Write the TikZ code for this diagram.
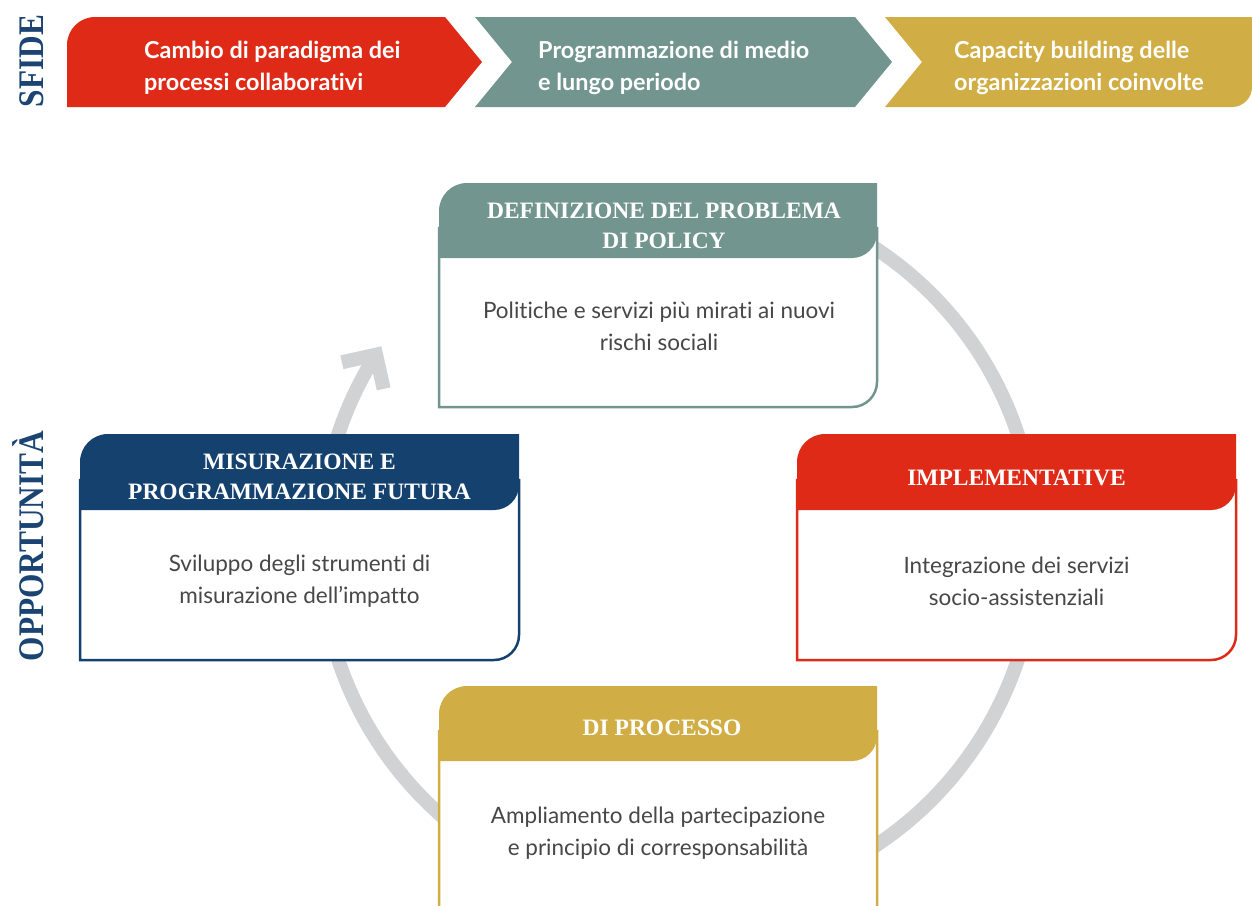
\documentclass[tikz,border=0pt]{standalone}
\usepackage{fontspec}
\usepackage{graphicx}
\setmainfont{Lato}[Ligatures=NoCommon]
\newfontfamily\serifb{Liberation Serif}
\usetikzlibrary{calc}
\definecolor{cred}{HTML}{DE2A17}
\definecolor{cteal}{HTML}{72968F}
\definecolor{cgold}{HTML}{D1AE45}
\definecolor{cblue}{HTML}{15416F}
\definecolor{cgray}{HTML}{D1D2D4}
\definecolor{ctext}{HTML}{474747}
\definecolor{clabel}{HTML}{1B4473}
% #1 colour, #2 left, #3 top, #4 right, #5 bottom, #6 header bottom (y up, negative)
\newcommand\optbox[6]{%
  \filldraw[draw=#1, fill=white, line width=2.5pt]
    (#2,{#6+30}) -- (#2,#5) -- ({#4-25},#5) arc[start angle=-90,end angle=0,radius=25]
    -- (#4,{#6+30}) -- cycle;
  \fill[#1] (#2,#6) -- (#2,{#3-28}) arc[start angle=180,end angle=90,radius=28]
    -- (#4,#3) -- (#4,{#6+25}) arc[start angle=0,end angle=-90,radius=25] -- cycle;
}
\begin{document}
\begin{tikzpicture}[x=1pt,y=1pt,
  chevtext/.style={text=white, font=\fontsize{23.4}{32}\selectfont\bfseries, align=left, anchor=west, inner sep=0pt},
  headtext/.style={text=white, font=\serifb\fontsize{23.5}{30}\selectfont\bfseries, align=center, inner sep=0pt},
  bodytext/.style={text=ctext, font=\fontsize{22.5}{32}\selectfont, align=center, inner sep=0pt},
  sidelabel/.style={text=clabel, font=\serifb\fontsize{36}{36}\selectfont\bfseries, rotate=90, anchor=base, inner sep=0pt},
  ring/.style={draw=cgray, line width=14pt},
]
\clip (0,0) rectangle (1252,-905);
\fill[white] (0,0) rectangle (1252,-905);

% side labels
\node[sidelabel] (sfide) at (43,-61) {\scalebox{0.87}[1]{SFIDE}};
\node[sidelabel] (opp) at (43,-546) {\scalebox{0.87}[1]{OPPORTUNITÀ}};

% chevrons
\fill[cred] (67,-107) -- (67,-45) arc[start angle=180,end angle=90,radius=28]
  -- (445,-17) -- (482,-62) -- (445,-107) -- cycle;
\fill[cteal] (475,-17) -- (855,-17) -- (892,-62) -- (855,-107) -- (475,-107) -- (512,-62) -- cycle;
\fill[cgold] (885,-17) -- (1252,-17) -- (1252,-87) arc[start angle=0,end angle=-90,radius=20]
  -- (885,-107) -- (922,-62) -- cycle;
\node[chevtext] (s1) at (144,-67.5) {Cambio di paradigma dei\\processi collaborativi};
\node[chevtext] (s2) at (538,-67.5) {Programmazione di medio\\e lungo periodo};
\node[chevtext] (s3) at (954,-67.5) {Capacity building delle\\organizzazioni coinvolte};

% ring with arrow
\coordinate (C) at (678,-547);
\coordinate (tip) at ($(C)+(147.5:358)$);
\draw[ring] ($(C)+(60:358)$) arc[start angle=60,end angle=-212.5,radius=358];
\draw[ring, line join=miter] ($(tip)+(282.5:35)$) -- (tip) -- ($(tip)+(192.5:35)$);

% boxes
\optbox{cteal}{439}{-183}{877}{-407}{-258}
\optbox{cblue}{80}{-434}{519}{-660}{-510}
\optbox{cred}{797}{-434}{1236}{-660}{-510}
\optbox{cgold}{439}{-686}{877}{-935}{-761}

\node[headtext] (h1) at (664,-225.5) {DEFINIZIONE DEL PROBLEMA\\DI POLICY};
\node[bodytext] (b1) at (659,-326) {Politiche e servizi più mirati ai nuovi\\rischi sociali};

\node[headtext] (h2) at (299.5,-476.5) {MISURAZIONE E\\PROGRAMMAZIONE FUTURA};
\node[bodytext] (b2) at (299.5,-581) {Sviluppo degli strumenti di\\misurazione dell’impatto};

\node[headtext] (h3) at (1016.5,-477.5) {IMPLEMENTATIVE};
\node[bodytext] (b3) at (1016.5,-581) {Integrazione dei servizi\\socio-assistenziali};

\node[headtext] (h4) at (662,-728) {DI PROCESSO};
\node[bodytext] (b4) at (658,-833.5) {Ampliamento della partecipazione\\e principio di corresponsabilità};
\end{tikzpicture}
\end{document}
